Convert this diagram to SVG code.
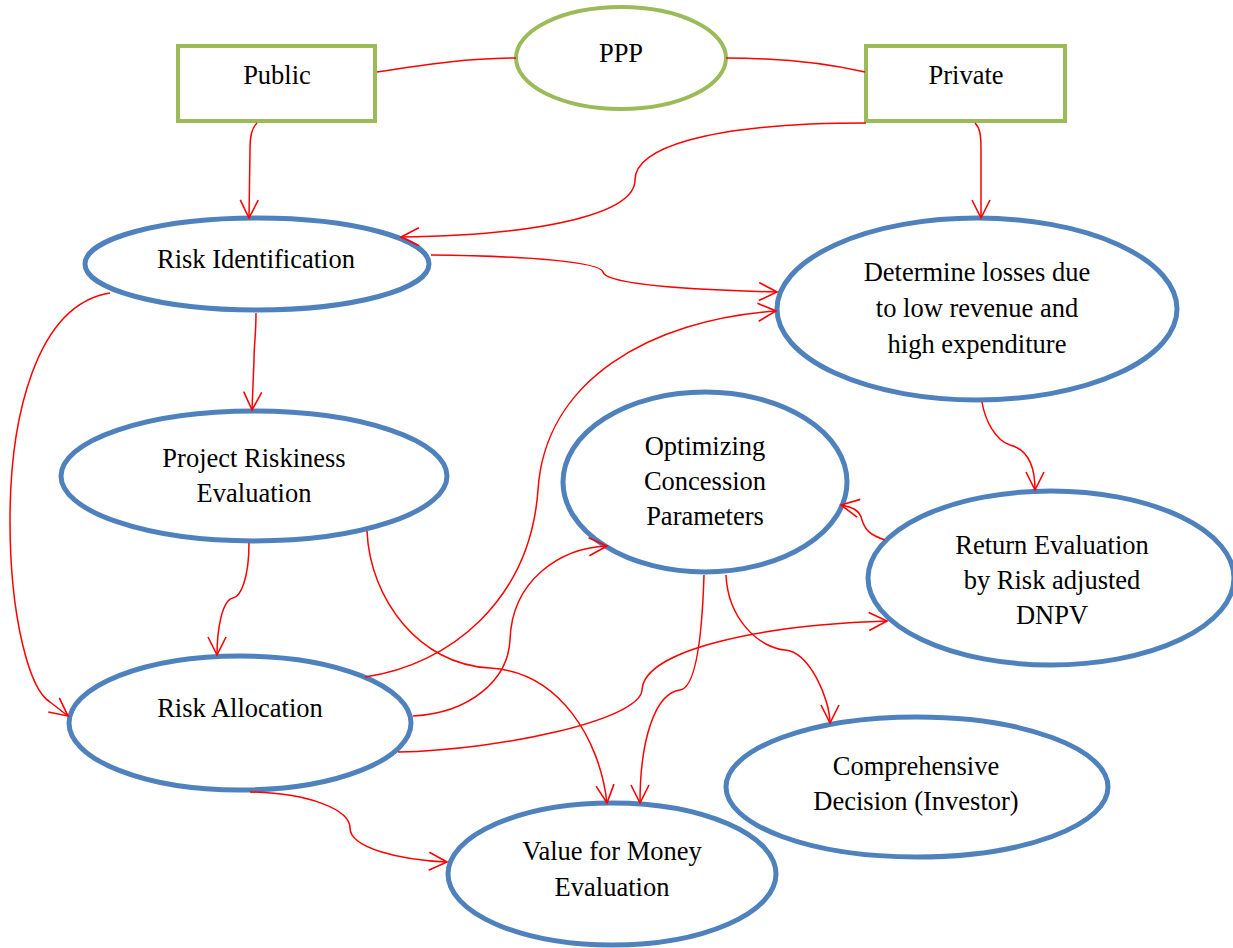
<svg xmlns="http://www.w3.org/2000/svg" width="1233" height="948" viewBox="0 0 1233 948">
  <style>
    .green { fill: #fff; stroke: #9BBB59; stroke-width: 4; }
    .blue { fill: #fff; stroke: #4F81BD; stroke-width: 5; }
    .lbl { font-size: 26.5px; fill: #000; text-anchor: middle; }
    .link { fill: none; stroke: #FF0000; stroke-width: 1.5; }
    .arrow { marker-end: url(#vhead); }
  </style>
  <defs>
    <!-- open chevron head used by every directed connector -->
    <marker id="vhead" markerUnits="userSpaceOnUse" markerWidth="22" markerHeight="22" viewBox="0 0 22 22" refX="20" refY="11" orient="auto">
      <path d="M2,2 L20,11 L2,20" fill="none" stroke="#FF0000" stroke-width="1.6"/>
    </marker>
  </defs>

  <g id="nodes" font-family="'Liberation Serif', serif">
    <g id="public">
      <rect class="green" x="178" y="46" width="197" height="75"/>
      <text class="lbl" font-family="'Liberation Serif', serif" x="277" y="84">Public</text>
    </g>
    <g id="ppp">
      <ellipse class="green" cx="621" cy="58" rx="105" ry="51"/>
      <text class="lbl" font-family="'Liberation Serif', serif" x="621" y="62">PPP</text>
    </g>
    <g id="private">
      <rect class="green" x="866" y="46" width="199" height="75"/>
      <text class="lbl" font-family="'Liberation Serif', serif" x="966" y="84">Private</text>
    </g>

    <g id="risk-identification">
      <ellipse class="blue" cx="257" cy="264" rx="172" ry="46"/>
      <text class="lbl" font-family="'Liberation Serif', serif" x="256" y="268">Risk Identification</text>
    </g>
    <g id="determine-losses">
      <ellipse class="blue" cx="977" cy="309" rx="200" ry="91"/>
      <text class="lbl" font-family="'Liberation Serif', serif" x="977" y="281">Determine losses due</text>
      <text class="lbl" font-family="'Liberation Serif', serif" x="977" y="317">to low revenue and</text>
      <text class="lbl" font-family="'Liberation Serif', serif" x="977" y="353">high expenditure</text>
    </g>
    <g id="project-riskiness">
      <ellipse class="blue" cx="254" cy="476" rx="193" ry="65"/>
      <text class="lbl" font-family="'Liberation Serif', serif" x="254" y="467">Project Riskiness</text>
      <text class="lbl" font-family="'Liberation Serif', serif" x="254" y="502">Evaluation</text>
    </g>
    <g id="optimizing-concession">
      <ellipse class="blue" cx="705" cy="482" rx="142" ry="90"/>
      <text class="lbl" font-family="'Liberation Serif', serif" x="705" y="455">Optimizing</text>
      <text class="lbl" font-family="'Liberation Serif', serif" x="705" y="490">Concession</text>
      <text class="lbl" font-family="'Liberation Serif', serif" x="705" y="525">Parameters</text>
    </g>
    <g id="return-evaluation">
      <ellipse class="blue" cx="1051" cy="578" rx="183" ry="87"/>
      <text class="lbl" font-family="'Liberation Serif', serif" x="1052" y="554">Return Evaluation</text>
      <text class="lbl" font-family="'Liberation Serif', serif" x="1052" y="589">by Risk adjusted</text>
      <text class="lbl" font-family="'Liberation Serif', serif" x="1052" y="624">DNPV</text>
    </g>
    <g id="risk-allocation">
      <ellipse class="blue" cx="240" cy="723" rx="171" ry="67"/>
      <text class="lbl" font-family="'Liberation Serif', serif" x="240" y="717">Risk Allocation</text>
    </g>
    <g id="comprehensive-decision">
      <ellipse class="blue" cx="917" cy="787" rx="191" ry="70"/>
      <text class="lbl" font-family="'Liberation Serif', serif" x="916" y="775">Comprehensive</text>
      <text class="lbl" font-family="'Liberation Serif', serif" x="916" y="810">Decision (Investor)</text>
    </g>
    <g id="value-for-money">
      <ellipse class="blue" cx="612" cy="874" rx="164" ry="71"/>
      <text class="lbl" font-family="'Liberation Serif', serif" x="612" y="860">Value for Money</text>
      <text class="lbl" font-family="'Liberation Serif', serif" x="612" y="896">Evaluation</text>
    </g>
  </g>

  <g id="connectors">
    <path class="link" d="M377,72 C 430,64 470,58 516,58"/>
    <path class="link" d="M726,58 C 780,58 830,64 865,72"/>
    <path class="link arrow" d="M257,123 C 252,128 250,135 250,150 L249,218"/>
    <path class="link arrow" d="M975,123 C 980,128 981,135 981,150 L981,218"/>
    <path class="link arrow" d="M866,123 C 700,123 635,150 635,180 C 635,212 550,235 401,237"/>
    <path class="link arrow" d="M431,255 C 530,256 600,262 603,272 C 606,285 700,290 777,292"/>
    <path class="link arrow" d="M256,313 C 256,335 254,345 254,360 L252,410"/>
    <path class="link arrow" d="M110,293 C 35,305 10,420 10,520 C 10,620 30,690 50,702 L68,716"/>
    <path class="link arrow" d="M249,543 C 249,580 240,597 233,598 C 222,600 217,630 217,655"/>
    <path class="link arrow" d="M367,531 C 370,600 420,665 490,668 C 560,672 600,740 607,803"/>
    <path class="link arrow" d="M365,677 C 450,665 530,600 538,490 C 545,380 650,320 776,311"/>
    <path class="link arrow" d="M413,716 C 470,713 508,680 510,640 C 512,580 560,548 607,546"/>
    <path class="link arrow" d="M398,752 C 500,750 640,720 642,690 C 644,650 760,625 887,621"/>
    <path class="link arrow" d="M250,792 C 310,793 350,810 350,828 C 350,848 400,860 447,862"/>
    <path class="link arrow" d="M704,575 C 702,640 695,688 680,690 C 655,693 640,740 640,803"/>
    <path class="link arrow" d="M726,575 C 728,620 760,648 785,650 C 810,652 830,700 830,723"/>
    <path class="link arrow" d="M982,402 C 985,420 995,440 1010,445 C 1030,450 1035,470 1035,490"/>
    <path class="link arrow" d="M885,540 C 870,535 865,530 862,520 C 860,510 852,507 841,505"/>
  </g>
</svg>
